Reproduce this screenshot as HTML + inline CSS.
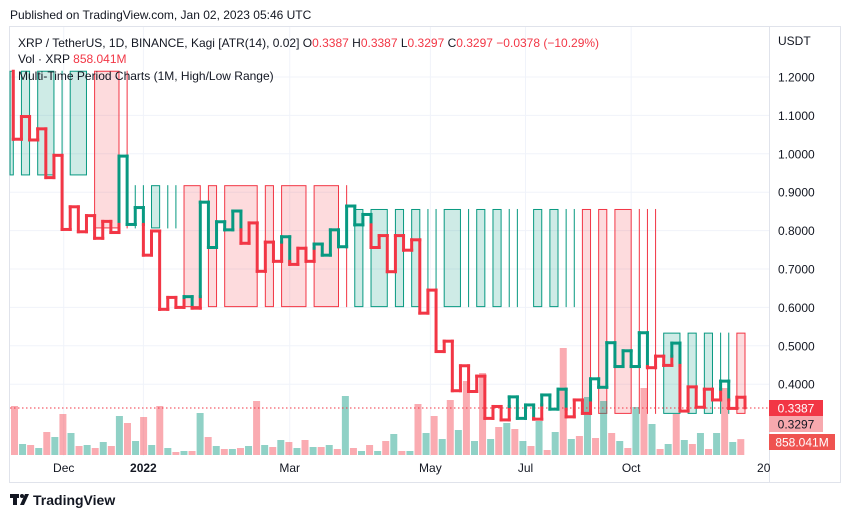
<!DOCTYPE html>
<html><head><meta charset="utf-8"><style>
body{margin:0;background:#fff;font-family:"Liberation Sans",sans-serif;}
svg text{font-family:"Liberation Sans",sans-serif;}
</style></head><body>
<svg id="chart" width="851" height="518" viewBox="0 0 851 518" xmlns="http://www.w3.org/2000/svg">
<rect x="0" y="0" width="851" height="518" fill="#fff"/>
<text x="10" y="19" font-size="12" fill="#131722">Published on TradingView.com, Jan 02, 2023 05:46 UTC</text>
<rect x="9.5" y="26.5" width="831" height="456" fill="#fff" stroke="#e0e3eb"/>
<g id="grid"></g>
<g id="boxes"></g>
<g id="volume"></g>
<line x1="10" y1="408" x2="769" y2="408" stroke="#f23645" stroke-dasharray="1.5,2.5" stroke-width="1"/>
<g id="kagi"></g>
<line x1="769.5" y1="27" x2="769.5" y2="482" stroke="#e0e3eb"/>
<g id="yaxis"></g>
<g id="xaxis"></g>
<text x="778" y="45" font-size="12" fill="#131722">USDT</text>
<rect x="769" y="400" width="54" height="16" fill="#f23645"/>
<text x="796" y="412.5" font-size="12" fill="#fff" text-anchor="middle">0.3387</text>
<rect x="769" y="416" width="54" height="16" fill="#f7a9ae"/>
<text x="796" y="428.5" font-size="12" fill="#131722" text-anchor="middle">0.3297</text>
<rect x="769" y="434" width="66" height="16" fill="#ef5350"/>
<text x="802" y="446.5" font-size="12" fill="#fff" text-anchor="middle">858.041M</text>
<g font-size="12" fill="#131722">
<text x="18" y="47">XRP / TetherUS, 1D, BINANCE, Kagi [ATR(14), 0.02]  <tspan>O</tspan><tspan fill="#f23645">0.3387</tspan>  H<tspan fill="#f23645">0.3387</tspan>  L<tspan fill="#f23645">0.3297</tspan>  C<tspan fill="#f23645">0.3297</tspan>  <tspan fill="#f23645">−0.0378 (−10.29%)</tspan></text>
<text x="18" y="63">Vol · XRP  <tspan fill="#f23645">858.041M</tspan></text>
<text x="18" y="80">Multi-Time Period Charts (1M, High/Low Range)</text>
</g>
<g>
<rect x="10" y="494" width="9" height="4" fill="#131722"/><rect x="13" y="494" width="4" height="11" fill="#131722"/>
<circle cx="22" cy="496" r="2" fill="#131722"/><path d="M20 505 L25 494 L29 494 L24 505Z" fill="#131722"/>
<text x="33" y="505" font-size="14" font-weight="bold" fill="#131722">TradingView</text>
</g>
</svg>
<script>
const kagiStart = 1.215;
const kagiTurns = [1.038,1.097,1.036,1.065,0.938,0.996,0.803,0.862,0.797,0.839,0.780,0.824,0.795,0.994,0.816,0.860,0.736,0.799,0.595,0.626,0.600,0.628,0.598,0.874,0.756,0.823,0.802,0.851,0.767,0.820,0.694,0.770,0.720,0.784,0.712,0.754,0.720,0.765,0.736,0.802,0.758,0.864,0.815,0.842,0.756,0.787,0.693,0.787,0.749,0.776,0.585,0.645,0.485,0.512,0.383,0.448,0.381,0.421,0.311,0.342,0.307,0.367,0.311,0.346,0.309,0.372,0.335,0.387,0.315,0.359,0.324,0.414,0.392,0.508,0.446,0.487,0.446,0.534,0.443,0.473,0.449,0.507,0.330,0.393,0.340,0.387,0.359,0.408,0.337,0.366,0.3387];
const boxStart = [-0.4,1,3,6,7, 10,14, 15,16,17,19,20, 21,24,26,31,33,37,41, 42,44,47,49,51,52,53,56,57,59,61,62,64,66,68,69, 70,72,74,77,78,79, 80,83,85,87,88, 89];
const boxEnd   = [0,2,5,6,9, 13,14, 15,16,18,19,20, 23,25,30,32,36,40,41, 43,46,48,50,51,52,55,56,58,60,61,62,65,67,68,69, 71,73,76,77,78,79, 82,84,86,87,88, 90];
const boxGroup = [0,0,0,0,0, 1,1, 2,2,2,2,2, 3,3,3,3,3,3,3, 4,4,4,4,4,4,4,4,4,4,4,4,4,4,4,4, 5,5,5,5,5,5, 6,6,6,6,6, 7];
const groupHigh = [1.215,1.215,0.917,0.917,0.855,0.855,0.533,0.533];
const groupLow  = [0.945,0.807,0.807,0.602,0.602,0.324,0.324,0.324];
const groupUp   = [true,false,true,false,true,false,true,false];
const volumeM = [2646,594,540,378,1242,972,2214,1188,486,540,378,702,486,2106,1728,756,2052,540,2646,378,162,216,216,2268,972,486,324,324,378,486,2916,540,432,810,702,378,810,432,432,540,324,3186,378,216,540,216,756,1134,216,216,2754,1188,2106,864,2970,1350,3996,756,4428,864,1512,1728,1404,756,486,1836,270,1242,5778,864,1026,3132,918,2916,1188,756,378,2592,3618,1674,324,594,2214,810,594,1188,324,1188,3618,702,858];
const priceTicks = [1.2,1.1,1.0,0.9,0.8,0.7,0.6,0.5,0.4];
const timeLabels = ["Dec","2022","Mar","May","Jul","Oct","20"];
const timeIdx = [6.2,16,34,51.3,63,76,92.3];

const NS="http://www.w3.org/2000/svg";
const GREEN="#089981", RED="#f23645";
function xK(i){return 13.3+8.13*i;}
function yP(p){return 77+(1.2-p)*384;}
function xV(k){return 11+8.07*k;}
function hV(v){return v/54;}
function mk(tag,attrs,parent){const e=document.createElementNS(NS,tag);for(const k in attrs)e.setAttribute(k,attrs[k]);parent.appendChild(e);return e;}

const grid=document.getElementById('grid');
priceTicks.forEach(p=>{
  const l=mk('line',{x1:10,x2:769,y1:yP(p),y2:yP(p),stroke:'#f0f3fa'},grid);
  
  
});
timeIdx.slice(0,6).forEach(i=>{
  const l=mk('line',{x1:xK(i),x2:xK(i),y1:27,y2:456,stroke:'#f0f3fa'},grid);
  
  
});
const ya=document.getElementById('yaxis');
priceTicks.forEach(p=>{
  const t=mk('text',{x:778,y:yP(p)+4.5,'font-size':12,fill:'#131722'},ya);
  t.textContent=p.toFixed(4);
  
  
});
const xa=document.getElementById('xaxis');
timeLabels.forEach((s,j)=>{
  const t=mk('text',{x:xK(timeIdx[j]),y:472,'font-size':12,fill:'#131722','text-anchor':'middle','font-weight':s==='2022'?'bold':'normal'},xa);
  t.textContent=s;
  
  
});

const bx=document.getElementById('boxes');
boxStart.forEach((a,j)=>{
  const g=boxGroup[j], c=groupUp[g]?GREEN:RED;
  const x1=xK(a), x2=xK(boxEnd[j]), y1=yP(groupHigh[g]), y2=yP(groupLow[g]);
  const r=mk('rect',{x:x1,y:y1,width:Math.max(x2-x1,0.01),height:y2-y1,fill:groupUp[g]?'rgba(8,153,129,0.2)':'rgba(242,54,69,0.18)',stroke:c,'stroke-width':1},bx);
  
  
});

const vg=document.getElementById('volume');
volumeM.forEach((v,k)=>{
  const h=hV(v);
  const r=mk('rect',{x:xV(k),y:455-h,width:7,height:h,fill:k%2===0?'rgba(242,54,69,0.42)':'rgba(8,153,129,0.45)'},vg);
  
  
});

const kg=document.getElementById('kagi');
let state=RED, prevHigh=null, prevLow=null, cur=kagiStart;
function seg(x1,y1,x2,y2,c){
  const l=mk('line',{x1:x1,y1:y1,x2:x2,y2:y2,stroke:c,'stroke-width':3,'stroke-linecap':'square'},kg);
  
  
}
kagiTurns.forEach((p,i)=>{
  const x=xK(i);
  if(p>cur){
    if(state===RED && prevHigh!==null && p>prevHigh){
      seg(x,yP(cur),x,yP(prevHigh),RED); seg(x,yP(prevHigh),x,yP(p),GREEN); state=GREEN;
    } else seg(x,yP(cur),x,yP(p),state);
    prevHigh=p;
  } else {
    if(state===GREEN && prevLow!==null && p<prevLow){
      seg(x,yP(cur),x,yP(prevLow),GREEN); seg(x,yP(prevLow),x,yP(p),RED); state=RED;
    } else seg(x,yP(cur),x,yP(p),state);
    prevLow=p;
  }
  if(i<kagiTurns.length-1) seg(x,yP(p),xK(i+1),yP(p),state);
  cur=p;
});
</script>
</body></html>
